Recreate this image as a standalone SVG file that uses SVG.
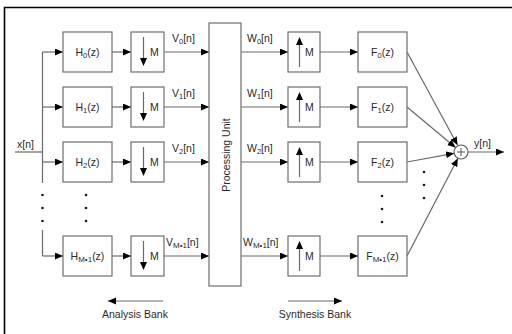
<svg xmlns="http://www.w3.org/2000/svg" width="512" height="334" viewBox="0 0 512 334">
  <style>
    .box { fill: #ffffff; stroke: #6e6e6e; stroke-width: 1.2; }
    .wire { fill: none; stroke: #6a6a6a; stroke-width: 1.2; }
    .arr { marker-end: url(#head); }
    .frame { fill: none; stroke: #000000; stroke-width: 1.6; }
    text { font-family: "Liberation Sans", Arial, Helvetica, sans-serif; font-size: 10.5px; fill: #2a2a2a; }
    .mid { text-anchor: middle; }
    .dot { fill: #1a1a1a; }
    .sub { font-size: 7.5px; }
    .subm { font-size: 8px; }
  </style>
  <defs>
    <marker id="head" markerUnits="userSpaceOnUse" markerWidth="9" markerHeight="8" refX="8" refY="3.5" orient="auto">
      <path d="M0,0 L8,3.5 L0,7 z" fill="#000"/>
    </marker>
  </defs>

  <rect width="512" height="334" fill="#ffffff"/>
  <!-- outer frame (top and left edges) -->
  <path class="frame" d="M4.5,334 V7.5 H512"/>

  <!-- connectors -->
  <g id="connectors">
    <!-- input and distribution bus -->
    <path class="wire" d="M15,152 H42.5"/>
    <path class="wire" d="M42.5,52 V183"/>
    <path class="wire" d="M42.5,230 V256"/>
    <path class="wire arr" d="M42.5,52 H63"/>
    <path class="wire arr" d="M42.5,107 H63"/>
    <path class="wire arr" d="M42.5,162 H63"/>
    <path class="wire arr" d="M42.5,256 H63"/>
    <!-- H to decimator -->
    <path class="wire arr" d="M112,52 H131"/>
    <path class="wire arr" d="M112,107 H131"/>
    <path class="wire arr" d="M112,162 H131"/>
    <path class="wire arr" d="M112,256 H131"/>
    <!-- decimator to processing unit -->
    <path class="wire arr" d="M164,52 H209"/>
    <path class="wire arr" d="M164,107 H209"/>
    <path class="wire arr" d="M164,162 H209"/>
    <path class="wire arr" d="M164,256 H209"/>
    <!-- processing unit to expander -->
    <path class="wire arr" d="M241,52 H288"/>
    <path class="wire arr" d="M241,107 H288"/>
    <path class="wire arr" d="M241,162 H288"/>
    <path class="wire arr" d="M241,256 H288"/>
    <!-- expander to F -->
    <path class="wire arr" d="M320,52 H358"/>
    <path class="wire arr" d="M320,107 H358"/>
    <path class="wire arr" d="M320,162 H358"/>
    <path class="wire arr" d="M320,256 H358"/>
    <!-- F outputs into the adder -->
    <path class="wire arr" d="M407,52 L457.5,145"/>
    <path class="wire arr" d="M407,107 L455.5,147.5"/>
    <path class="wire arr" d="M407,162 L454,153.3"/>
    <path class="wire arr" d="M407,256 L457.8,158.5"/>
    <!-- output -->
    <path class="wire arr" d="M468,152 H504"/>
    <!-- bank direction arrows -->
    <path class="wire arr" d="M163,301 H108"/>
    <path class="wire arr" d="M288,301 H342"/>
  </g>

  <!-- continuation dots -->
  <g id="dots">
    <circle class="dot" cx="42.5" cy="195" r="1.3"/>
    <circle class="dot" cx="42.5" cy="208" r="1.3"/>
    <circle class="dot" cx="42.5" cy="221" r="1.3"/>
    <circle class="dot" cx="86" cy="195" r="1.3"/>
    <circle class="dot" cx="86" cy="208" r="1.3"/>
    <circle class="dot" cx="86" cy="221" r="1.3"/>
    <circle class="dot" cx="382" cy="196" r="1.3"/>
    <circle class="dot" cx="382" cy="209" r="1.3"/>
    <circle class="dot" cx="382" cy="222" r="1.3"/>
    <circle class="dot" cx="424" cy="172" r="1.3"/>
    <circle class="dot" cx="424" cy="185" r="1.3"/>
    <circle class="dot" cx="424" cy="198" r="1.3"/>
  </g>

  <text x="17" y="148">x[n]</text>

  <!-- analysis filters -->
  <g id="H0"><rect class="box" x="63" y="32" width="49" height="40"/><text class="mid" x="87.5" y="56">H<tspan class="sub" dy="2">0</tspan><tspan dy="-2">(z)</tspan></text></g>
  <g id="H1"><rect class="box" x="63" y="87" width="49" height="40"/><text class="mid" x="87.5" y="111">H<tspan class="sub" dy="2">1</tspan><tspan dy="-2">(z)</tspan></text></g>
  <g id="H2"><rect class="box" x="63" y="142" width="49" height="40"/><text class="mid" x="87.5" y="166">H<tspan class="sub" dy="2">2</tspan><tspan dy="-2">(z)</tspan></text></g>
  <g id="HM1"><rect class="box" x="63" y="236" width="49" height="40"/><text class="mid" x="87.5" y="260">H<tspan class="subm" dy="2">M•1</tspan><tspan dy="-2">(z)</tspan></text></g>

  <!-- decimators -->
  <g id="D0"><rect class="box" x="131" y="32" width="33" height="40"/><path class="wire" d="M143.5,37 V59" stroke="#444"/><path d="M140,58 L143.5,66 L147,58 z" fill="#000"/><text x="150" y="56">M</text></g>
  <g id="D1"><rect class="box" x="131" y="87" width="33" height="40"/><path class="wire" d="M143.5,92 V114" stroke="#444"/><path d="M140,113 L143.5,121 L147,113 z" fill="#000"/><text x="150" y="111">M</text></g>
  <g id="D2"><rect class="box" x="131" y="142" width="33" height="40"/><path class="wire" d="M143.5,147 V169" stroke="#444"/><path d="M140,168 L143.5,176 L147,168 z" fill="#000"/><text x="150" y="166">M</text></g>
  <g id="DM1"><rect class="box" x="131" y="236" width="33" height="40"/><path class="wire" d="M143.5,241 V263" stroke="#444"/><path d="M140,262 L143.5,270 L147,262 z" fill="#000"/><text x="150" y="260">M</text></g>

  <!-- subband signal labels -->
  <text x="172" y="42">V<tspan class="sub" dy="2">0</tspan><tspan dy="-2">[n]</tspan></text>
  <text x="172" y="97">V<tspan class="sub" dy="2">1</tspan><tspan dy="-2">[n]</tspan></text>
  <text x="172" y="152">V<tspan class="sub" dy="2">2</tspan><tspan dy="-2">[n]</tspan></text>
  <text x="166" y="246">V<tspan class="subm" dy="2">M•1</tspan><tspan dy="-2">[n]</tspan></text>
  <text x="247" y="42">W<tspan class="sub" dy="2">0</tspan><tspan dy="-2">[n]</tspan></text>
  <text x="247" y="97">W<tspan class="sub" dy="2">1</tspan><tspan dy="-2">[n]</tspan></text>
  <text x="247" y="152">W<tspan class="sub" dy="2">2</tspan><tspan dy="-2">[n]</tspan></text>
  <text x="243" y="246">W<tspan class="subm" dy="2">M•1</tspan><tspan dy="-2">[n]</tspan></text>

  <!-- processing unit -->
  <g id="PU">
    <rect class="box" x="209" y="23" width="32" height="263"/>
    <text class="mid" transform="translate(229.5,155) rotate(-90)" font-size="12">Processing Unit</text>
  </g>

  <!-- expanders -->
  <g id="U0"><rect class="box" x="288" y="32" width="32" height="40"/><path class="wire" d="M299.5,44 V67" stroke="#444"/><path d="M296,45 L299.5,37 L303,45 z" fill="#000"/><text x="305" y="56">M</text></g>
  <g id="U1"><rect class="box" x="288" y="87" width="32" height="40"/><path class="wire" d="M299.5,99 V122" stroke="#444"/><path d="M296,100 L299.5,92 L303,100 z" fill="#000"/><text x="305" y="111">M</text></g>
  <g id="U2"><rect class="box" x="288" y="142" width="32" height="40"/><path class="wire" d="M299.5,154 V177" stroke="#444"/><path d="M296,155 L299.5,147 L303,155 z" fill="#000"/><text x="305" y="166">M</text></g>
  <g id="UM1"><rect class="box" x="288" y="236" width="32" height="40"/><path class="wire" d="M299.5,248 V271" stroke="#444"/><path d="M296,249 L299.5,241 L303,249 z" fill="#000"/><text x="305" y="260">M</text></g>

  <!-- synthesis filters -->
  <g id="F0"><rect class="box" x="358" y="32" width="49" height="40"/><text class="mid" x="382.5" y="56">F<tspan class="sub" dy="2">0</tspan><tspan dy="-2">(z)</tspan></text></g>
  <g id="F1"><rect class="box" x="358" y="87" width="49" height="40"/><text class="mid" x="382.5" y="111">F<tspan class="sub" dy="2">1</tspan><tspan dy="-2">(z)</tspan></text></g>
  <g id="F2"><rect class="box" x="358" y="142" width="49" height="40"/><text class="mid" x="382.5" y="166">F<tspan class="sub" dy="2">2</tspan><tspan dy="-2">(z)</tspan></text></g>
  <g id="FM1"><rect class="box" x="358" y="236" width="49" height="40"/><text class="mid" x="382.5" y="260">F<tspan class="subm" dy="2">M•1</tspan><tspan dy="-2">(z)</tspan></text></g>

  <!-- adder -->
  <g id="sum">
    <circle cx="461" cy="152" r="7" fill="#fff" stroke="#555" stroke-width="1.1"/>
    <path d="M457,152 H465 M461,148 V156" stroke="#555" stroke-width="1"/>
  </g>
  <text x="474" y="147">y[n]</text>

  <text class="mid" x="135" y="318">Analysis Bank</text>
  <text class="mid" x="315" y="318">Synthesis Bank</text>
</svg>
